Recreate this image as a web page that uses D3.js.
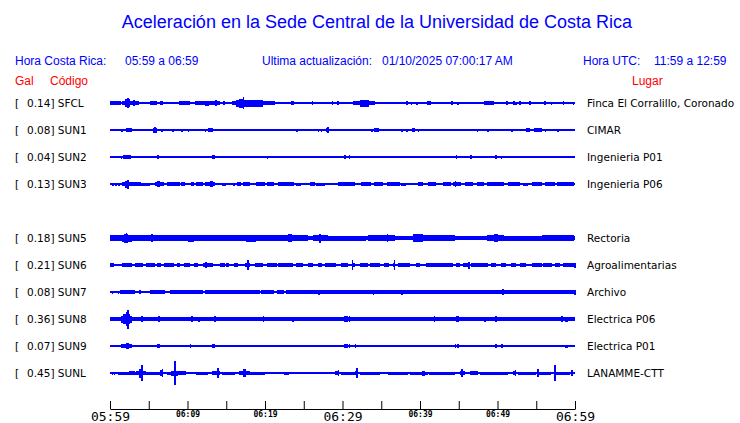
<!DOCTYPE html>
<html>
<head>
<meta charset="utf-8">
<script src="https://cdn.jsdelivr.net/npm/d3@7"></script>
<style>
  body { margin: 0; background: #fff; }
  svg { display: block; }
</style>
</head>
<body>
<figure id="sismo" style="margin:0"></figure>
<script>
// stations, top to bottom (null = empty slot)
var codes  = ["SFCL", "SUN1", "SUN2", "SUN3", null, "SUN5", "SUN6", "SUN7", "SUN8", "SUN9", "SUNL"];
var gals   = ["0.14", "0.08", "0.04", "0.13", null, "0.18", "0.21", "0.08", "0.36", "0.07", "0.45"];
var places = ["Finca El Corralillo, Coronado", "CIMAR", "Ingenieria P01", "Ingenieria P06", null,
              "Rectoria", "Agroalimentarias", "Archivo", "Electrica P06", "Electrica P01", "LANAMME-CTT"];

// background noise level of each trace (relative amplitude)
var baseAmp = [0.8, 1, 1, 1, null, 2, 1, 1, 1.7, 1, 1];

// bursts of each trace: [start minute, end minute, relative amplitude], minutes after 05:59
var sfcl = [[0,1.4,1.7],[0.3,0.5,2.2],[1.5,3.7,2],[1.9,2.6,4],[2.2,2.3,4.8],[3.0,3.2,3],[5.2,6.1,1.7],[6.4,6.8,1.7],
  [8.9,10.3,2],[11,14.2,2],[12.3,12.8,2.5],[13.6,13.7,3],[14.6,14.6,2],[15.7,21.3,2],[16.3,19.7,3.5],[16.7,17.3,4.5],
  [17.1,17.2,6],[18.2,18.6,3.5],[23.4,23.7,2],[26,26,1.7],[28.6,28.6,1.7],[29.3,29.3,1.7],[31.4,34.2,2],[32.2,33.4,3.5],
  [38.2,38.2,1.7],[38.8,38.8,1.5],[39.5,39.5,1.5],[40.9,41.4,2],[44,44,1.7],[44.8,44.8,1.5],[48.3,49.6,1.7],[48.8,49.2,2.3],
  [51.1,51.1,1.7],[52,52,1.7],[52.3,52.3,1.5],[52.8,53.0,2],[54,54.3,2],[56,56,1.7],[56.9,56.9,1.5],[58.4,58.4,1.7],[59.7,59.7,1.5]];
var sun1 = [[1.4,1.7,1.5],[2,2.8,2],[5.5,6.0,2.5],[5.7,5.8,3.2],[6.6,6.6,1.5],[8,8,1.5],[8.5,8.5,1.3],[9.2,9.2,1.5],
  [10,10,1.5],[11,11,1.3],[12.2,12.2,1.5],[12.6,13.3,2.3],[24,24,1.5],[26.8,26.8,1.5],[27.2,27.2,1.5],[27.5,27.5,1.3],
  [27.9,28.1,2.3],[28.0,28.0,3],[30.5,30.5,1.3],[33.7,33.7,1.5],[34.1,34.7,2],[37.6,37.6,1.5],[38.2,38.2,1.5],[39,39.3,2],
  [39.7,39.7,1.5],[47.3,47.3,1.5],[48.7,48.7,1.5],[49,49,1.3],[51.8,51.8,1.5],[53.7,54.2,1.8],[54.7,55.7,2],[56.1,56.1,1.5],[57.7,57.7,1.5]];
var sun2 = [[1.4,1.4,1.5],[1.7,2.7,2],[6.1,6.3,2],[13.2,13.5,2],[19.7,19.7,1.3],[20.2,20.2,1.5],[30.2,30.2,2],[30.8,30.8,2],
  [44.6,44.6,2],[46.5,46.5,1.7],[49.7,49.7,1.7],[50.4,50.4,1.5]];
var sun3 = [[0.3,0.3,1.5],[0.7,0.7,1.5],[1.0,1.3,1.5],[1.5,4.0,1.7],[1.9,2.5,3.5],[2.2,2.3,4.5],[4.0,5.2,1.5],[5.8,7.0,1.7],
  [6.1,6.4,2.7],[7.4,9.0,1.7],[9.1,9.7,1.7],[10.4,10.8,1.7],[11.1,12.0,1.7],[12.3,13.6,1.7],[12.9,13.3,2.7],[14.4,15.0,1.5],
  [15.9,16.1,1.5],[16.4,16.9,1.7],[17.2,18.0,1.7],[18.9,20.0,1.7],[20.3,21.2,1.7],[21.7,23.8,1.7],[24.0,24.7,1.5],[25.8,26.4,1.7],
  [26.6,27.7,1.5],[29.4,31.6,1.7],[32.4,33.7,1.7],[34.0,35.2,1.7],[35.7,37.4,1.7],[37.6,38.2,1.5],[39.7,40.4,1.7],[41.0,42.1,1.7],
  [43.0,44.0,1.7],[44.3,45.3,1.7],[44.5,44.7,3],[45.8,46.8,1.7],[47.3,48.3,1.7],[48.6,50.9,1.7],[51.4,52.9,1.7],[53.3,53.9,1.5],
  [54.4,55.7,1.7],[56.1,57.4,1.7],[57.7,59.9,1.7]];
var sun5 = [[0,1.5,2.7],[1.5,2.8,3.5],[1.8,2.3,4.5],[2.0,2.1,5.2],[2.8,5.3,3],[5.3,5.4,4.2],[5.4,10.1,2.7],[10.1,10.9,3.5],
  [10.9,17.6,2.7],[17.6,18.9,3.5],[18.9,23.0,2.7],[23.0,23.5,4.2],[23.5,25.5,2.7],[26.2,28.1,3],[27.0,27.1,4.5],[28.1,33.0,2.5],
  [33.3,36.8,3],[35.7,35.9,4],[36.8,39.1,2.3],[39.1,40.4,3.7],[39.5,39.6,4.3],[40.4,44.5,2.7],[44.5,48.6,2],[48.6,50.9,3.2],
  [49.6,50.0,4.2],[50.9,55.7,2.5],[55.7,59.9,2.7]];
var sun6 = [[0,0.5,1.7],[1.5,2.8,1.7],[3.2,4.3,1.7],[4.6,5.8,1.7],[6.0,6.6,1.7],[7.0,8.3,1.7],[8.6,9.0,1.7],[9.6,10.3,1.7],
  [10.9,11.4,1.7],[12.0,13.3,1.7],[12.3,12.4,3],[14.2,14.8,1.7],[15.0,15.4,1.7],[16.0,16.5,1.7],[17.4,18.0,2],[17.7,17.7,5],
  [18.7,19.7,1.7],[20.3,21.5,1.7],[21.7,23.6,1.7],[24.0,24.9,1.7],[25.5,26.2,1.7],[26.8,27.3,1.7],[27.7,29.2,1.7],[29.85,30.7,1.7],
  [31.2,31.2,5.3],[31.4,31.6,1.7],[32.2,33.3,1.7],[33.5,34.8,1.7],[35.4,36.0,1.7],[36.5,36.8,2],[36.6,36.6,5.3],[37.2,38.7,1.7],
  [39.5,40.0,1.7],[40.8,44.3,1.7],[44.7,45.1,1.7],[45.5,46.4,1.7],[46.2,46.2,3.5],[46.6,48.8,1.7],[49.2,49.8,1.7],[50.5,51.1,1.7],
  [51.8,52.4,1.7],[52.9,53.7,1.7],[54.4,55.7,1.7],[55.9,57.0,1.7],[57.4,58.0,1.7],[58.5,59.9,1.7],[59.9,59.9,2.5]];
var sun7 = [[0.2,0.2,1.5],[1.0,1.0,1.5],[1.25,3.2,1.7],[3.8,4.0,1.7],[5.1,7.05,1.7],[7.7,12.0,1.7],[12.2,19.3,1.7],
  [19.5,21.2,1.7],[21.5,22.5,1.7],[22.75,59.9,1.7],[16.7,16.7,2.3],[26.9,26.9,2.5],[30.15,30.15,2.3],[33.9,33.9,2.5],
  [37.6,37.6,2.5],[47.7,47.7,2.3],[48.3,48.3,2.3],[50.4,50.8,2.2],[50.6,50.6,2.7],[59.9,59.9,2.5]];
var sun8 = [[0,1.4,2],[1.4,2.8,3.5],[1.7,2.6,5],[2.1,2.3,7],[2.2,2.2,9.5],[4.0,4.0,2.8],[6.2,6.3,3.2],[10.5,10.5,2.7],
  [11.4,11.4,2.5],[13.4,13.7,2.7],[19.7,19.7,3.2],[23.5,23.5,2.5],[30.2,30.2,3],[30.5,30.5,3],[30.8,30.8,3],[41.8,41.8,2.7],
  [44.6,44.6,3],[44.8,44.8,3],[48.3,48.3,2.5],[49.7,49.7,2.8],[58.2,58.2,2.7],[58.7,59.1,2.5]];
var sun9 = [[1.4,2.8,1.8],[2.0,2.4,2.7],[6.0,6.4,2],[10.3,10.4,2],[13.2,13.5,2.3],[19.7,19.7,1.3],[30.2,30.2,1.8],
  [30.5,30.5,1.8],[30.8,30.8,1.8],[31.6,31.6,1.8],[44.5,44.5,1.8],[44.8,44.8,1.8],[49.7,49.7,1.8],[50.5,50.5,1.8],
  [58.7,58.7,1.5],[58.9,58.9,1.5]];
var sunl = [[0.2,0.2,1.5],[0.5,0.5,1.5],[1.0,3.4,1.5],[2.5,3.2,1.8],[3.4,4.6,2.3],[3.8,4.2,4.5],[4.0,4.0,8],[4.6,6.4,1.5],
  [6.5,6.9,3],[6.7,6.7,4],[7.3,7.9,1.5],[7.9,8.8,2.5],[8.2,8.4,5],[8.3,8.3,12],[8.8,9.85,1.8],[11.1,12.6,1.5],[13.1,14.2,1.7],
  [13.85,13.85,5],[14.4,16.1,1.5],[16.6,18.0,2],[17.1,17.5,3.7],[18.0,20.0,1.5],[21.5,21.5,1.3],[22.5,23.1,1.5],[25.5,27.1,1.3],
  [29.0,29.6,2.2],[29.4,29.4,3],[29.85,31.6,1.5],[31.6,32.0,2.3],[31.8,31.8,5],[32.2,34.8,1.5],[35.9,38.5,1.5],[38.7,41.0,1.5],
  [40.2,40.6,2.5],[41.2,44.5,1.5],[45.1,45.8,2.2],[45.3,45.3,4],[46.4,47.5,1.8],[47.7,51.4,1.5],[52.0,52.4,2.2],[52.2,52.2,3.2],
  [52.6,55.0,1.5],[55.1,55.1,4],[55.4,56.9,1.5],[57.3,57.3,8],[57.6,59.3,1.5],[59.5,59.5,3]];
var bursts = [sfcl, sun1, sun2, sun3, null, sun5, sun6, sun7, sun8, sun9, sunl];

// time axis
var tickMinutes = d3.range(0, 61, 5);
var tickLabels = {0: "05:59", 10: "06:09", 20: "06:19", 30: "06:29", 40: "06:39", 50: "06:49", 60: "06:59"};
var majorTicks = [0, 30, 60];

var width = 740, height = 423;
var blue = "#0000ff", red = "#ff0000";

var svg = d3.select("figure#sismo")
  .append("svg")
  .attr("width", width)
  .attr("height", height);

// scales
var x = d3.scaleLinear().domain([0, 60]).range([110, 575]);
var row = d3.scalePoint().domain(d3.range(codes.length)).range([103, 373]);
var amp = d3.scaleLinear().domain([0, 10]).range([0, 10]);

// title + header
svg.append("text")
  .attr("x", 377).attr("y", 28)
  .attr("text-anchor", "middle")
  .style("font", "18px 'Liberation Sans', Arial, sans-serif")
  .style("fill", blue)
  .text("Aceleración en la Sede Central de la Universidad de Costa Rica");

var header = [
  [15, "Hora Costa Rica:"], [125, "05:59 a 06:59"],
  [262, "Ultima actualización:"], [382, "01/10/2025 07:00:17 AM"],
  [583, "Hora UTC:"], [654, "11:59 a 12:59"]
];
svg.selectAll("text.hdr")
  .data(header)
  .enter()
  .append("text")
  .attr("class", "hdr")
  .attr("x", function(d) { return d[0]; })
  .attr("y", 65)
  .style("font", "12px 'Liberation Sans', Arial, sans-serif")
  .style("fill", blue)
  .text(function(d) { return d[1]; });

svg.selectAll("text.red")
  .data([[15, "Gal"], [50, "Código"], [632, "Lugar"]])
  .enter()
  .append("text")
  .attr("class", "red")
  .attr("x", function(d) { return d[0]; })
  .attr("y", 85)
  .style("font", "12px 'Liberation Sans', Arial, sans-serif")
  .style("fill", red)
  .text(function(d) { return d[1]; });

// one group for each station
var idx = d3.range(codes.length).filter(function(i) { return codes[i] !== null; });

var rows = svg.selectAll("g.row")
  .data(idx)
  .enter()
  .append("g")
  .attr("class", "row")
  .attr("transform", function(i) { return "translate(0," + row(i) + ")"; });

var lab = "10.5px 'DejaVu Sans', sans-serif";
rows.append("text").attr("x", 15).attr("dy", "0.35em")
  .style("font", lab).text("[");
rows.append("text").attr("x", 27).attr("dy", "0.35em")
  .style("font", lab)
  .text(function(i) { return gals[i] + "] " + codes[i]; });
rows.append("text").attr("x", 587).attr("dy", "0.35em")
  .style("font", lab)
  .text(function(i) { return places[i]; });

// trace baseline
rows.append("rect")
  .attr("x", x(0))
  .attr("width", x(60) - x(0))
  .attr("y", function(i) { return -amp(baseAmp[i]); })
  .attr("height", function(i) { return 2 * amp(baseAmp[i]); })
  .attr("fill", blue)
  .attr("shape-rendering", "crispEdges");

// bursts
rows.selectAll("rect.burst")
  .data(function(i) { return bursts[i]; })
  .enter()
  .append("rect")
  .attr("class", "burst")
  .attr("x", function(d) { return x(d[0]); })
  .attr("width", function(d) { return Math.max(1.5, x(d[1]) - x(d[0])); })
  .attr("y", function(d) { return -amp(d[2]); })
  .attr("height", function(d) { return 2 * amp(d[2]); })
  .attr("fill", blue)
  .attr("shape-rendering", "crispEdges");

// time axis, ticks pointing up
var axis = d3.axisBottom(x)
  .tickValues(tickMinutes)
  .tickSizeInner(-8)
  .tickSizeOuter(0)
  .tickFormat(function(m) { return tickLabels[m] || ""; });

var ax = svg.append("g")
  .attr("transform", "translate(0,409)")
  .call(axis);
ax.select(".domain").attr("stroke", "#000");
ax.selectAll(".tick line").attr("stroke", "#000");
ax.selectAll(".tick text")
  .attr("fill", "#000")
  .style("font", function(m) {
    return majorTicks.indexOf(m) >= 0
      ? "13px 'DejaVu Sans Mono', monospace"
      : "bold 8px 'DejaVu Sans Mono', monospace";
  })
  .attr("y", function(m) { return majorTicks.indexOf(m) >= 0 ? 12 : 8; })
  .attr("dy", 0);
</script>
</body>
</html>
